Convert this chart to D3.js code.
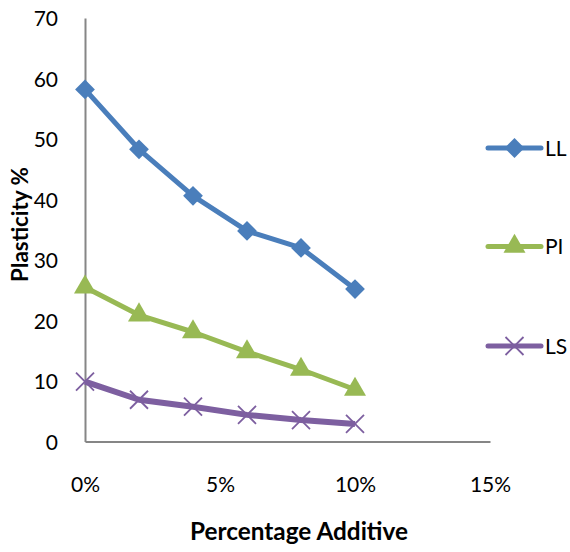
<!DOCTYPE html>
<html><head><meta charset="utf-8">
<script src="https://cdn.jsdelivr.net/npm/d3@7"></script>
<style>body{margin:0;background:#fff}svg{display:block}text{font-family:Lato,"Open Sans",sans-serif}</style>
</head><body><svg id="c" width="570" height="552"></svg>
<script>
const additive = [0, 0.02, 0.04, 0.06, 0.08, 0.10];
const LL = [58.2, 48.3, 40.6, 34.8, 32.0, 25.2];
const PI = [25.5, 20.9, 18.1, 14.8, 11.9, 8.6];
const LS = [9.9, 6.9, 5.75, 4.4, 3.55, 2.9];
const yTicks = [0, 10, 20, 30, 40, 50, 60, 70];
const xTicks = [0, 0.05, 0.10, 0.15];
const seriesNames = ["LL", "PI", "LS"];
const colors = ["#4A7EBB", "#98B954", "#7D5FA0"];
const series = [LL, PI, LS];

const FONT = 'Lato,"Open Sans",sans-serif';
const svg = d3.select("#c");
const x = d3.scaleLinear().domain([0, 0.15]).range([85, 490]);
const y = d3.scaleLinear().domain([0, 70]).range([441.5, 18]);
const axisColor = "#868686";

const yAxis = svg.append("g").attr("transform", "translate(85,0)")
  .call(d3.axisLeft(y).tickValues(yTicks).tickSize(0).tickPadding(27).tickFormat(d3.format("d")));
const xAxis = svg.append("g").attr("transform", "translate(0,441.5)")
  .call(d3.axisBottom(x).tickValues(xTicks).tickSize(0).tickPadding(50).tickFormat(d3.format(".0%")));
[yAxis, xAxis].forEach(g => {
  g.select(".domain").attr("stroke", axisColor).attr("stroke-width", 2);
  g.selectAll("text").attr("fill", "#000").attr("font-size", 21).style("font-family", FONT);
});
yAxis.selectAll("text").attr("dy", "0.36em");
xAxis.selectAll("text").attr("dy", "0");

function fitText(t, w) {
  const len = t.node().getComputedTextLength();
  const fs = +t.attr("font-size");
  t.attr("font-size", fs * w / len);
}
const yt = svg.append("text").attr("transform", "translate(28,224.5) rotate(-90)")
  .attr("text-anchor", "middle").attr("font-size", 20).attr("font-weight", "bold").text("Plasticity %");
fitText(yt, 115);
const xt = svg.append("text").attr("x", 299).attr("y", 540)
  .attr("text-anchor", "middle").attr("font-size", 20).attr("font-weight", "bold").text("Percentage Additive");
fitText(xt, 218);

const line = d3.line().x((d, i) => x(additive[i])).y(d => y(d));

function marker(g, type, cx, cy, color) {
  if (type === 0) {
    g.append("rect").attr("x", cx - 7).attr("y", cy - 7).attr("width", 14).attr("height", 14)
      .attr("fill", color).attr("transform", `rotate(45,${cx},${cy})`);
  } else if (type === 1) {
    g.append("path").attr("d", d3.symbol(d3.symbolTriangle, 210)()).attr("transform", `translate(${cx},${cy})`).attr("fill", color);
  } else {
    const s = 9;
    g.append("path").attr("d", `M${cx - s},${cy - s}L${cx + s},${cy + s}M${cx - s},${cy + s}L${cx + s},${cy - s}`)
      .attr("stroke", color).attr("stroke-width", 1.8).attr("fill", "none");
  }
}

series.forEach((vals, si) => {
  const g = svg.append("g");
  g.append("path").datum(vals).attr("d", line).attr("fill", "none")
    .attr("stroke", colors[si]).attr("stroke-width", si === 2 ? 6 : 5).attr("stroke-linejoin", "round");
  vals.forEach((v, i) => marker(g, si, x(additive[i]), y(v), colors[si]));
});

const legendY = [148, 246.5, 346];
seriesNames.forEach((n, si) => {
  const g = svg.append("g");
  g.append("line").attr("x1", 488).attr("x2", 541).attr("y1", legendY[si]).attr("y2", legendY[si])
    .attr("stroke", colors[si]).attr("stroke-width", 5).attr("stroke-linecap", "round");
  marker(g, si, 514.5, legendY[si], colors[si]);
  g.append("text").attr("x", 545).attr("y", legendY[si]).attr("dy", "0.36em")
    .attr("font-size", 21).text(n);
});
</script></body></html>
